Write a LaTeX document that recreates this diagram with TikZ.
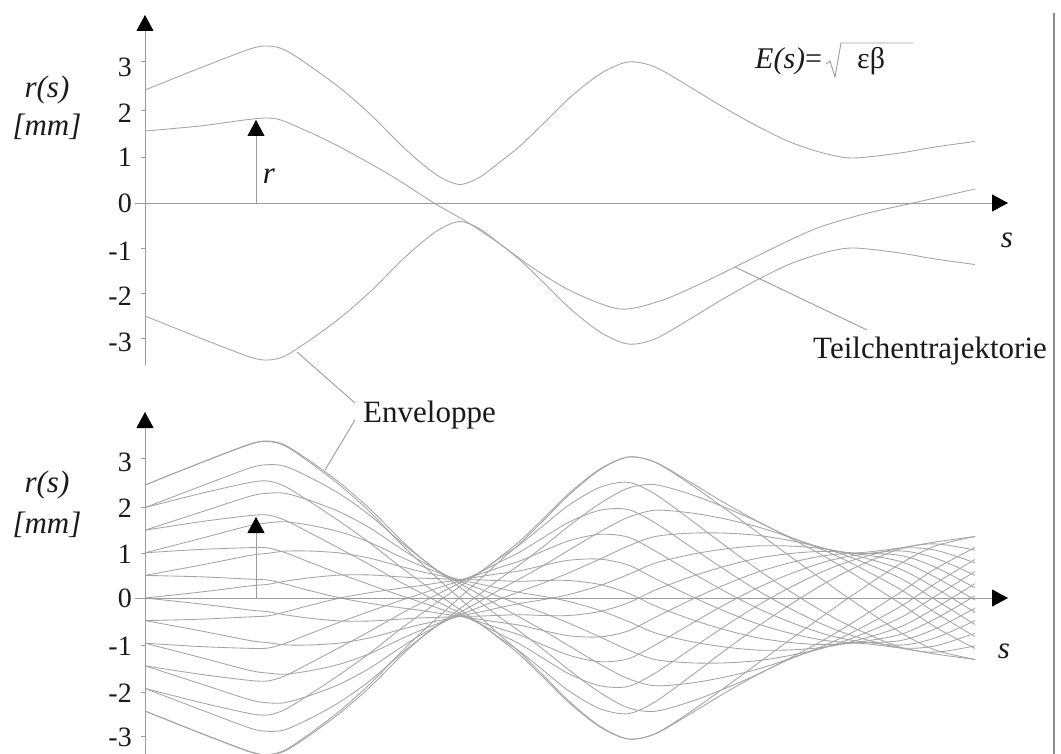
\documentclass[tikz,border=0pt]{standalone}
\usepackage{fontspec}
\setmainfont{Liberation Serif}
\usetikzlibrary{arrows.meta}
\definecolor{cgray}{HTML}{A4A4A4}
\definecolor{agray}{HTML}{9C9C9C}
\definecolor{txt}{HTML}{1A1A1A}
\definecolor{bord}{HTML}{8C8C8C}

% particle trajectory r = E(s) cos(psi(s)+phi); #1 = zero line, #2 = phi
\newcommand\trajR[2]{%
 \draw[curve] plot[smooth] coordinates {
 (145,{#1-113*cos(#2)})
 (200,{#1-135*cos(#2+2.5)})
 (250,{#1-154*cos(#2+4.5)})
 (268,{#1-157*cos(#2+5)})
 (285,{#1-153*cos(#2+6.3)})
 (310,{#1-137*cos(#2+8.5)})
 (340,{#1-115*cos(#2+11.5)})
 (370,{#1-89*cos(#2+15)})
 (400,{#1-59*cos(#2+21)})
 (420,{#1-41*cos(#2+29)})
 (440,{#1-26*cos(#2+48)})
 (460,{#1-18.5*cos(#2+92)})
 (480,{#1-26*cos(#2+136)})
 (500,{#1-41*cos(#2+155)})
 (520,{#1-57*cos(#2+163)})
 (545,{#1-81*cos(#2+167.5)})
 (570,{#1-105.5*cos(#2+170.5)})
 (600,{#1-129*cos(#2+174)})
 (628,{#1-141*cos(#2+178)})
 (655,{#1-136*cos(#2+183.3)})
 (690,{#1-116*cos(#2+190.4)})
 (723,{#1-96*cos(#2+199)})
 (757,{#1-77*cos(#2+211)})
 (790,{#1-61*cos(#2+226.8)})
 (823,{#1-50*cos(#2+248.9)})
 (853,{#1-45*cos(#2+274)})
 (900,{#1-50*cos(#2+313)})
 (935,{#1-56*cos(#2+338)})
 (975,{#1-61.5*cos(#2+362)})
 };}

% envelope; #1 = zero line, #2 = (1) upper or (-1) lower
\newcommand\envR[2]{%
 \draw[curve] plot[smooth] coordinates {
 (145,{#1-#2*113}) (200,{#1-#2*135}) (250,{#1-#2*154}) (268,{#1-#2*157})
 (285,{#1-#2*153}) (310,{#1-#2*137}) (340,{#1-#2*115}) (370,{#1-#2*89})
 (400,{#1-#2*59}) (420,{#1-#2*41}) (440,{#1-#2*26}) (460,{#1-#2*18.5})
 (480,{#1-#2*26}) (500,{#1-#2*41}) (520,{#1-#2*57}) (545,{#1-#2*81})
 (570,{#1-#2*105.5}) (600,{#1-#2*129}) (628,{#1-#2*141}) (655,{#1-#2*136})
 (690,{#1-#2*116}) (723,{#1-#2*96}) (757,{#1-#2*77}) (790,{#1-#2*61})
 (823,{#1-#2*50}) (853,{#1-#2*45}) (900,{#1-#2*50}) (935,{#1-#2*56})
 (975,{#1-#2*61.5})
 };}

\begin{document}
\begin{tikzpicture}[x=1pt,y=-1pt,
  curve/.style={draw=cgray, line width=0.85pt},
  axisline/.style={draw=agray, line width=0.9pt},
  tipped/.style={axisline, -{Triangle[length=16pt,width=17pt,color=black]}},
  leader/.style={draw=agray, line width=0.9pt},
  radical/.style={draw=agray, line width=0.9pt, line join=miter},
  lbl/.style={font=\fontsize{31}{36}\selectfont, inner sep=0pt, text=txt},
  num/.style={font=\fontsize{28}{32}\selectfont, inner sep=0pt, anchor=east, text=txt},
  tick/.style={draw=agray, line width=0.9pt}]
\useasboundingbox (0,0) rectangle (1061,754);
\fill[white] (0,0) rectangle (1061,754);
\clip (0,0) rectangle (1061,754);

% right frame line
\coordinate (frT) at (1054,13);
\coordinate (frB) at (1054,754);
\draw[draw=bord, line width=1.6pt] (frT) -- (frB);

% ===== top plot =====
\envR{203}{1}
\envR{203}{(-1)}
\draw[curve] plot[smooth] coordinates {
 (145,131) (200,126) (268,118) (300,128) (340,147) (390,175)
 (434,203) (467,222) (500,244) (533,268) (573,292) (620,309) (660,301)
 (700,284) (733,268) (790,240) (823,226) (868,213) (913,203) (975,189)};

\coordinate (xa1) at (135,203); \coordinate (xe1) at (1008,203);
\coordinate (ya1) at (145,365); \coordinate (ye1) at (145,15);
\draw[tipped] (xa1) -- (xe1);
\draw[tipped] (ya1) -- (ye1);
\foreach \y in {61,110,157,248,293,338} \draw[tick] (141,\y) -- (145,\y);
\coordinate (ra1) at (256,203); \coordinate (re1) at (256,120);
\draw[tipped] (ra1) -- (re1);

\foreach \v/\y in {3/67,2/113,1/157,0/203.5,-1/251,-2/296.5,-3/342.5}
  \node[num] (ta\v) at (132,\y) {\v};
\node[lbl, anchor=base] (rs1) at (47,98) {\textit{r(s)}};
\node[lbl, anchor=base] (mm1) at (47,136) {\textit{[mm]}};
\node[lbl] (rl1) at (269,176) {\textit{r}};
\node[lbl] (s1) at (1007,240) {\textit{s}};

% formula
\node[lbl, anchor=base west, font=\fontsize{30}{34}\selectfont] (Es) at (755,69) {\textit{E(s)}=};
\node[lbl, anchor=base west, font=\fontsize{30}{34}\selectfont] (eb) at (857,69) {εβ};
\coordinate (rd1) at (826,64); \coordinate (rd2) at (830,61);
\coordinate (rd3) at (835,77); \coordinate (rd4) at (841,43);
\coordinate (rd5) at (913,43);
\draw[radical] (rd1) -- (rd2) -- (rd3) -- (rd4) -- (rd5);

% Teilchentrajektorie
\node[lbl, anchor=base west] (teil) at (813,359) {Teilchentrajektorie};
\coordinate (trA) at (735,267); \coordinate (trB) at (867,330);
\draw[leader] (trA) -- (trB);

% Enveloppe
\node[lbl, anchor=base west] (env) at (363,422) {Enveloppe};
\coordinate (enA) at (297,352); \coordinate (enAt) at (355,403);
\coordinate (enB) at (325,470); \coordinate (enBt) at (355,420);
\draw[leader] (enA) -- (enAt);
\draw[leader] (enB) -- (enBt);

% ===== bottom plot =====
\envR{598}{1}
\envR{598}{(-1)}
\foreach \p in {0,36.87,-36.87,53.13,-53.13,66.42,-66.42,78.46,-78.46,90,-90,
                101.54,-101.54,113.58,-113.58,126.87,-126.87,143.13,-143.13,180}
  {\trajR{598}{\p}}

\coordinate (xa2) at (135,598); \coordinate (xe2) at (1008,598);
\coordinate (ya2) at (145,760); \coordinate (ye2) at (145,412);
\draw[tipped] (xa2) -- (xe2);
\draw[tipped] (ya2) -- (ye2);
\foreach \y in {458,507,553,645,692,736} \draw[tick] (141,\y) -- (145,\y);
\coordinate (ra2) at (256,598); \coordinate (re2) at (256,517);
\draw[tipped] (ra2) -- (re2);

\foreach \v/\y in {3/462,2/508,1/554,0/598,-1/646,-2/693,-3/737}
  \node[num] (tb\v) at (132,\y) {\v};
\node[lbl, anchor=base] (rs2) at (47,492) {\textit{r(s)}};
\node[lbl, anchor=base] (mm2) at (47,533) {\textit{[mm]}};
\node[lbl] (s2) at (1004,651) {\textit{s}};
\end{tikzpicture}
\end{document}
